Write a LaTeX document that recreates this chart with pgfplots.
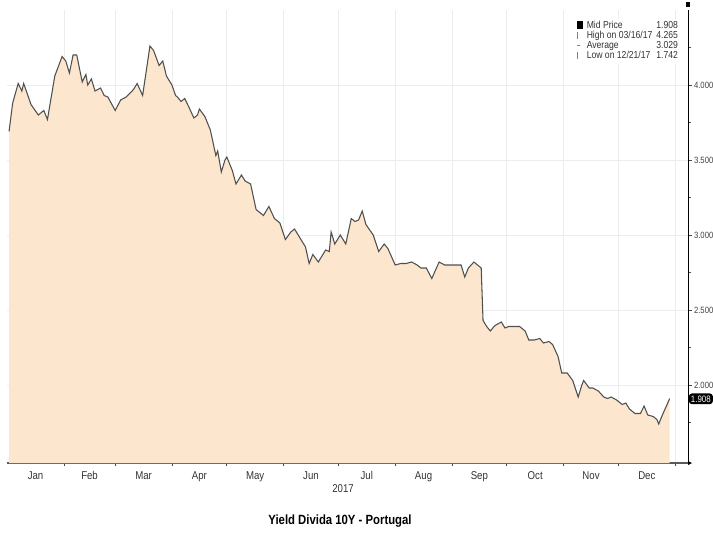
\documentclass[border=0pt]{standalone}
\usepackage{pgfplots}
\pgfplotsset{compat=1.18}
\usepackage{fontspec}
\setmainfont{Liberation Sans}[FakeStretch=0.85]
\definecolor{peach}{RGB}{253,230,206}
\definecolor{lineg}{RGB}{80,80,80}
\definecolor{gridg}{RGB}{236,236,236}
\begin{document}
\begin{tikzpicture}[x=0.75pt,y=0.75pt]
\useasboundingbox (-7.2,-74) rectangle (705.8,463);
\begin{axis}[
  at={(0,0)}, anchor=south west,
  scale only axis, width=510.6pt, height=339.75pt,
  xmin=0, xmax=372, ymin=1.48, ymax=4.5,
  axis x line*=bottom, axis y line*=right,
  x axis line style={draw=black!65, line width=1pt},
  y axis line style={draw=black, line width=0.6pt},
  clip=false,
  xtick={15.5,45,74.5,105,135.5,166,196.5,227.5,258,288.5,319,349.5},
  xticklabels={Jan,Feb,Mar,Apr,May,Jun,Jul,Aug,Sep,Oct,Nov,Dec},
  minor xtick={31,59,90,120,151,181,212,243,273,304,334,365},
  major x tick style={draw=none},
  xminorgrids, ymajorgrids,
  grid style={draw=gridg, line width=0.5pt},
  minor grid style={draw=gridg, line width=0.5pt},
  ytick={2,2.5,3,3.5,4},
  minor ytick={1.75,2.25,2.75,3.25,3.75,4.25},
  tick align=outside,
  major tick length=3pt, minor tick length=2pt,
  tick style={draw=black!70, line width=0.5pt},
  /pgf/number format/fixed, /pgf/number format/fixed zerofill,
  /pgf/number format/precision=3, /pgf/number format/assume math mode=true,
  yticklabel style={font=\fontsize{6.8}{7}\selectfont, text=black!75, xshift=-2pt},
  xticklabel style={font=\fontsize{8.5}{9}\selectfont, text=black!80},
]
\addplot[fill=peach, draw=none] coordinates {
(1,3.69)(3,3.88)(6,4.01)(8,3.96)(9,4.01)(13,3.87)(17,3.80)(20,3.83)(22,3.77)(26,4.06)
(30,4.19)(32,4.16)(34,4.08)(36,4.20)(38,4.20)(41,4.02)(43,4.07)(44,4.00)(46,4.04)(48,3.96)
(51,3.98)(53,3.93)(55,3.92)(59,3.83)(62,3.90)(65,3.92)(69,3.97)(71,4.01)(74,3.93)(78,4.26)
(80,4.23)(83,4.13)(85,4.16)(87,4.06)(90,4.00)(92,3.93)(93,3.92)(95,3.89)(97,3.91)(99,3.86)
(102,3.78)(104,3.80)(105,3.84)(108,3.79)(111,3.70)(114,3.53)(115,3.56)(117,3.42)(119,3.50)(120,3.52)
(123,3.43)(125,3.34)(128,3.40)(130,3.36)(133,3.34)(136,3.17)(140,3.13)(143,3.19)(146,3.11)(149,3.08)
(152,2.97)(155,3.02)(157,3.04)(160,2.98)(163,2.92)(165,2.81)(167,2.87)(170,2.82)(174,2.90)(176,2.89)
(177,3.02)(179,2.94)(182,3.00)(185,2.94)(188,3.11)(190,3.09)(192,3.10)(194,3.16)(196,3.07)(200,3.00)
(203,2.89)(206,2.94)(208,2.91)(212,2.80)(215,2.81)(218,2.81)(221,2.82)(224,2.80)(226,2.78)(229,2.78)
(232,2.71)(236,2.82)(239,2.80)(243,2.80)(247,2.80)(248,2.80)(250,2.72)(252,2.78)(255,2.82)(258,2.79)
(259,2.78)(260,2.43)(262,2.39)(264,2.36)(266,2.39)(267,2.40)(270,2.42)(272,2.38)(274,2.39)(277,2.39)
(280,2.39)(283,2.36)(285,2.30)(288,2.30)(291,2.31)(293,2.28)(296,2.29)(298,2.27)(301,2.19)(303,2.08)
(306,2.08)(309,2.03)(312,1.92)(314,2.00)(315,2.03)(318,1.98)(320,1.98)(323,1.96)(326,1.92)(328,1.91)
(330,1.92)(333,1.90)(336,1.87)(338,1.88)(340,1.84)(343,1.81)(346,1.81)(348,1.86)(350,1.80)(353,1.79)
(355,1.77)(356,1.74)(358,1.80)(362,1.91)
} \closedcycle;
\addplot[draw=lineg, line width=0.8pt] coordinates {
(1,3.69)(3,3.88)(6,4.01)(8,3.96)(9,4.01)(13,3.87)(17,3.80)(20,3.83)(22,3.77)(26,4.06)
(30,4.19)(32,4.16)(34,4.08)(36,4.20)(38,4.20)(41,4.02)(43,4.07)(44,4.00)(46,4.04)(48,3.96)
(51,3.98)(53,3.93)(55,3.92)(59,3.83)(62,3.90)(65,3.92)(69,3.97)(71,4.01)(74,3.93)(78,4.26)
(80,4.23)(83,4.13)(85,4.16)(87,4.06)(90,4.00)(92,3.93)(93,3.92)(95,3.89)(97,3.91)(99,3.86)
(102,3.78)(104,3.80)(105,3.84)(108,3.79)(111,3.70)(114,3.53)(115,3.56)(117,3.42)(119,3.50)(120,3.52)
(123,3.43)(125,3.34)(128,3.40)(130,3.36)(133,3.34)(136,3.17)(140,3.13)(143,3.19)(146,3.11)(149,3.08)
(152,2.97)(155,3.02)(157,3.04)(160,2.98)(163,2.92)(165,2.81)(167,2.87)(170,2.82)(174,2.90)(176,2.89)
(177,3.02)(179,2.94)(182,3.00)(185,2.94)(188,3.11)(190,3.09)(192,3.10)(194,3.16)(196,3.07)(200,3.00)
(203,2.89)(206,2.94)(208,2.91)(212,2.80)(215,2.81)(218,2.81)(221,2.82)(224,2.80)(226,2.78)(229,2.78)
(232,2.71)(236,2.82)(239,2.80)(243,2.80)(247,2.80)(248,2.80)(250,2.72)(252,2.78)(255,2.82)(258,2.79)
(259,2.78)(260,2.43)(262,2.39)(264,2.36)(266,2.39)(267,2.40)(270,2.42)(272,2.38)(274,2.39)(277,2.39)
(280,2.39)(283,2.36)(285,2.30)(288,2.30)(291,2.31)(293,2.28)(296,2.29)(298,2.27)(301,2.19)(303,2.08)
(306,2.08)(309,2.03)(312,1.92)(314,2.00)(315,2.03)(318,1.98)(320,1.98)(323,1.96)(326,1.92)(328,1.91)
(330,1.92)(333,1.90)(336,1.87)(338,1.88)(340,1.84)(343,1.81)(346,1.81)(348,1.86)(350,1.80)(353,1.79)
(355,1.77)(356,1.74)(358,1.80)(362,1.91)
};
\node[fill=black, text=white, rounded corners=2.5pt, inner sep=1.6pt, anchor=west,
  font=\fontsize{7}{7}\selectfont] at (axis cs:372.3,1.908) {1.908};
\end{axis}
% axis end markers
\fill[black] (678.6,456) rectangle (682.6,461);
\fill[black] (680.8,-2) -- (684.8,0) -- (680.8,2) -- cycle;
% legend box
\node[anchor=north east, fill=white, inner sep=1.5pt, font=\fontsize{7.6}{7}\selectfont, text=black!80]
  at (673,444) {%
  \begin{tabular}{@{}l@{\hspace{2.5pt}}l@{\hspace{3pt}}r@{}}
   {\color{black}\rule{4.5pt}{5.5pt}} & Mid Price & 1.908\\
   {\color{black!50}\rule{0.4pt}{5pt}} & High on 03/16/17 & 4.265\\
   {\color{black!50}\rule[2pt]{2pt}{0.4pt}} & Average & 3.029\\
   {\color{black!50}\rule{0.4pt}{5pt}} & Low on 12/21/17 & 1.742
  \end{tabular}};
\node[font=\fontsize{8.5}{9}\selectfont, text=black!80] at (335.8,-26) {2017};
\node[font=\bfseries\fontsize{10}{11}\selectfont] at (332.8,-58) {Yield Divida 10Y - Portugal};
\end{tikzpicture}
\end{document}
